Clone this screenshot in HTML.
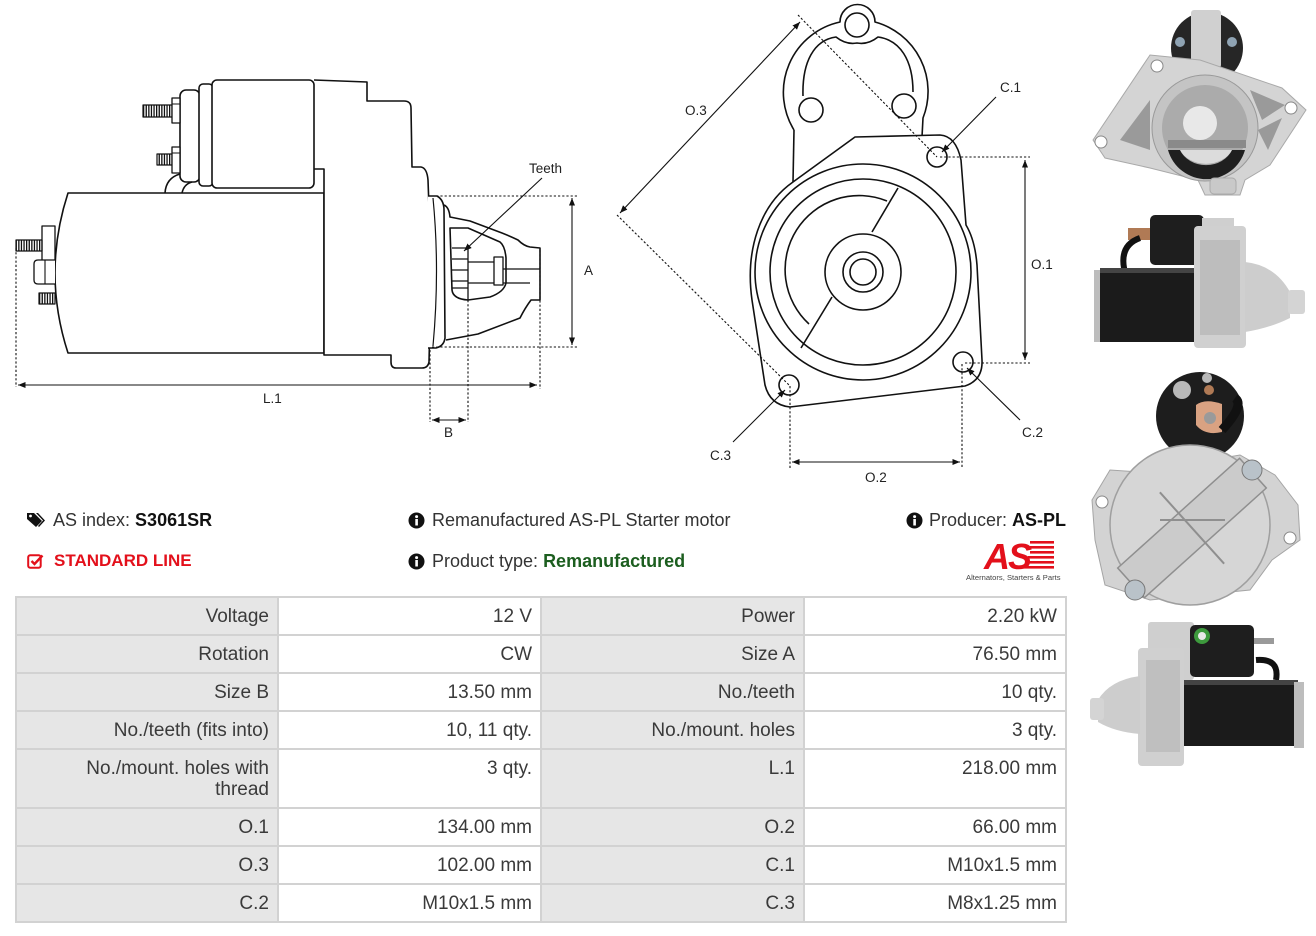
<!DOCTYPE html>
<html><head><meta charset="utf-8">
<style>
html,body{margin:0;padding:0;background:#fff;}
body{width:1316px;height:936px;position:relative;overflow:hidden;font-family:"Liberation Sans",Arial,sans-serif;color:#333;}
.abs{position:absolute;}
.info{position:absolute;font-size:18px;line-height:22px;white-space:nowrap;color:#333;}
.info b{color:#111;}
.tbl{position:absolute;left:15px;top:596px;width:1052px;height:327px;background:#d2d2d2;}
.c{position:absolute;box-sizing:border-box;padding:8px 8px 0 8px;text-align:right;font-size:19px;line-height:21px;color:#3a3a3a;}
.g{background:#e6e6e6;}
.w{background:#fff;}
</style></head><body>

<svg class="abs" style="left:0;top:0" width="1316" height="936" viewBox="0 0 1316 936">
<defs>
<marker id="ah" viewBox="0 0 10 10" refX="10" refY="5" markerWidth="7" markerHeight="7" orient="auto-start-reverse"><path d="M0,1 L10,5 L0,9 Z" fill="#111"/></marker>
<pattern id="hatch" width="2.6" height="20" patternUnits="userSpaceOnUse"><rect width="1.3" height="20" fill="#111"/></pattern>
</defs>

<!-- ============ LEFT SIDE DRAWING ============ -->
<g fill="none" stroke="#111" stroke-width="1.6" stroke-linejoin="round">
  <!-- motor body -->
  <path d="M68,193 L324,193 L324,353 L68,353 Q42,273 68,193 Z" fill="#fff"/>
  <!-- housing -->
  <path d="M314,80 L367,82 L367,101 L404,101 Q411,101 411,108 L412,167 L421,167 Q427,168 428,180 Q432,270 429,362 Q428,368 422,368 L396,368 Q391,368 391,362 L391,355 L324,355 L324,169 L314,169" fill="#fff"/>
  <!-- solenoid -->
  <rect x="180" y="90" width="20" height="92" rx="6" fill="#fff"/>
  <rect x="199" y="84" width="14" height="102" rx="4" fill="#fff"/>
  <rect x="212" y="80" width="102" height="108" rx="5" fill="#fff"/>
  <path d="M165,193 Q166,178 180,174"/>
  <path d="M182,193 Q184,184 192,182"/>
  <!-- solenoid studs -->
  <rect x="143" y="105" width="29" height="12" fill="url(#hatch)" stroke-width="1.2"/>
  <rect x="172" y="98" width="8" height="25" fill="#fff" stroke-width="1.3"/>
  <line x1="172" y1="104" x2="180" y2="104" stroke-width="1"/>
  <rect x="157" y="154" width="15" height="11" fill="url(#hatch)" stroke-width="1.2"/>
  <rect x="172" y="147" width="8" height="26" fill="#fff" stroke-width="1.3"/>
  <line x1="172" y1="153" x2="180" y2="153" stroke-width="1"/>
  <!-- left terminal -->
  <rect x="42" y="226" width="13" height="39" fill="#fff" stroke-width="1.3"/>
  <rect x="16" y="240" width="26" height="11" fill="url(#hatch)" stroke-width="1.2"/>
  <path d="M55,260 L38,260 Q34,260 34,264 L34,280 Q34,284 38,284 L55,284" fill="#fff" stroke-width="1.3"/>
  <line x1="45" y1="260" x2="45" y2="284" stroke-width="1.1"/>
  <rect x="39" y="293" width="16" height="11" fill="url(#hatch)" stroke-width="1.2"/>
  <!-- flange -->
  <path d="M428,196 L437,196 Q444,200 444,210 L445,338 Q444,346 436,348 L428,348" fill="#fff"/>
  <path d="M433,198 Q440,270 433,346" stroke-width="1.2"/>
  <!-- nose -->
  <path d="M444,205 Q449,207 450,217 L470,221 L502,233 Q512,237 518,240 Q524,246 530,247 L540,248 L540,300 L531,300 Q525,308 520,318 L478,334 L446,340"/>
  <path d="M450,228 L468,228 L500,242 Q505,246 506,258 L506,283 Q504,292 490,297 L468,300 Q453,299 452,290 Z"/>
  <line x1="468" y1="246" x2="468" y2="300" stroke-width="1.3"/>
  <path d="M452,248 L468,248 M452,259 L468,259 M452,270 L468,270 M452,281 L468,281 M452,288 L468,288" stroke-width="1.3"/>
  <path d="M468,262 L494,262 M468,283 L494,283 M503,269 L540,269 M503,283 L530,283" stroke-width="1.3"/>
  <rect x="494" y="257" width="9" height="28" fill="#fff" stroke-width="1.3"/>
</g>
<!-- left drawing dimensions -->
<g fill="none" stroke="#111" stroke-width="1.1" stroke-dasharray="2.2 2">
  <line x1="432" y1="196" x2="577" y2="196"/>
  <line x1="432" y1="347" x2="577" y2="347"/>
  <line x1="16" y1="248" x2="16" y2="387"/>
  <line x1="540" y1="250" x2="540" y2="389"/>
  <line x1="430" y1="350" x2="430" y2="422"/>
  <line x1="468" y1="300" x2="468" y2="422"/>
</g>
<g fill="none" stroke="#111" stroke-width="1.1">
  <line x1="18" y1="385" x2="537" y2="385" marker-start="url(#ah)" marker-end="url(#ah)"/>
  <line x1="572" y1="198" x2="572" y2="345" marker-start="url(#ah)" marker-end="url(#ah)"/>
  <line x1="432" y1="420" x2="466" y2="420" marker-start="url(#ah)" marker-end="url(#ah)"/>
  <line x1="542" y1="178" x2="464" y2="251" marker-end="url(#ah)"/>
</g>
<g font-family="Liberation Sans, sans-serif" font-size="13.5" fill="#222">
  <text x="529" y="173">Teeth</text>
  <text x="584" y="275">A</text>
  <text x="263" y="403">L.1</text>
  <text x="444" y="437">B</text>
</g>

<!-- ============ FRONT VIEW DRAWING ============ -->
<g fill="none" stroke="#111" stroke-width="1.6" stroke-linejoin="round">
  <path d="M794,130 A72,72 0 0 1 840,22 A17.5,17.5 0 0 1 875,22 A72,72 0 0 1 923,118 L922,137"/>
  <line x1="794" y1="130" x2="793" y2="182"/>
  <path d="M803,96 C802,62 814,40 836,37 Q846,45 857,43 Q868,45 878,37 C900,40 913,60 913,92"/>
  <circle cx="857" cy="25" r="12"/>
  <circle cx="811" cy="110" r="12"/>
  <circle cx="904" cy="106" r="12"/>
  <path d="M855,137 L793,182 C760,205 745,250 752,300 L765,385 Q770,405 790,407 L965,386 Q983,380 982,360 L977,265 Q975,240 966,225 L961,160 Q956,136 940,135 Z" fill="#fff"/>
  <circle cx="863" cy="272" r="108"/>
  <circle cx="863" cy="272" r="93"/>
  <path d="M887,201 A74,74 0 0 0 809,324"/>
  <line x1="898" y1="188" x2="872" y2="232"/>
  <line x1="832" y1="297" x2="801" y2="348"/>
  <circle cx="863" cy="272" r="38"/>
  <circle cx="863" cy="272" r="20"/>
  <circle cx="863" cy="272" r="13"/>
  <circle cx="937" cy="157" r="10"/>
  <circle cx="963" cy="362" r="10"/>
  <circle cx="789" cy="385" r="10"/>
</g>
<g fill="none" stroke="#111" stroke-width="1.1" stroke-dasharray="2.2 2">
  <line x1="940" y1="157" x2="1030" y2="157"/>
  <line x1="965" y1="363" x2="1030" y2="363"/>
  <line x1="790" y1="386" x2="790" y2="468"/>
  <line x1="962" y1="364" x2="962" y2="468"/>
  <line x1="798" y1="15" x2="937" y2="157"/>
  <line x1="617" y1="215" x2="789" y2="385"/>
</g>
<g fill="none" stroke="#111" stroke-width="1.1">
  <line x1="1025" y1="160" x2="1025" y2="360" marker-start="url(#ah)" marker-end="url(#ah)"/>
  <line x1="792" y1="462" x2="960" y2="462" marker-start="url(#ah)" marker-end="url(#ah)"/>
  <line x1="800" y1="22" x2="620" y2="213" marker-start="url(#ah)" marker-end="url(#ah)"/>
  <line x1="996" y1="97" x2="942" y2="152" marker-end="url(#ah)"/>
  <line x1="1020" y1="420" x2="967" y2="368" marker-end="url(#ah)"/>
  <line x1="733" y1="442" x2="785" y2="390" marker-end="url(#ah)"/>
</g>
<g font-family="Liberation Sans, sans-serif" font-size="13.5" fill="#222">
  <text x="685" y="115">O.3</text>
  <text x="1000" y="92">C.1</text>
  <text x="1031" y="269">O.1</text>
  <text x="1022" y="437">C.2</text>
  <text x="710" y="460">C.3</text>
  <text x="865" y="482">O.2</text>
</g>

<!-- ============ PHOTOS ============ -->
<!-- photo 1: front -->
<g>
  <circle cx="1207" cy="48" r="36" fill="#262626"/>
  <rect x="1191" y="10" width="30" height="58" rx="3" fill="#d0d0d0"/>
  <circle cx="1180" cy="42" r="5" fill="#8fa3b3"/>
  <circle cx="1232" cy="42" r="5" fill="#8fa3b3"/>
  <polygon points="1093,140 1150,55 1200,60 1282,88 1306,110 1270,165 1245,180 1240,195 1205,195 1198,180 1150,168 1105,158" fill="#d4d4d4" stroke="#a9a9a9"/>
  <circle cx="1101" cy="142" r="6" fill="#fff" stroke="#888"/>
  <circle cx="1157" cy="66" r="6" fill="#fff" stroke="#888"/>
  <circle cx="1291" cy="108" r="6" fill="#fff" stroke="#888"/>
  <polygon points="1120,140 1150,100 1150,150" fill="#9a9a9a"/>
  <polygon points="1250,90 1285,105 1262,120" fill="#9a9a9a"/>
  <polygon points="1258,130 1282,118 1268,150" fill="#9a9a9a"/>
  <circle cx="1205" cy="128" r="53" fill="#c4c4c4" stroke="#999"/>
  <circle cx="1205" cy="128" r="43" fill="#ababab"/>
  <path d="M1168,150 A40,40 0 0 0 1245,150 L1232,150 A28,24 0 0 1 1180,150 Z" fill="#1f1f1f"/>
  <path d="M1180,150 A28,22 0 0 0 1232,150 Z" fill="#dcdcdc"/>
  <rect x="1168" y="140" width="78" height="8" fill="#8a8a8a"/>
  <circle cx="1200" cy="123" r="17" fill="#e8e8e8"/>
  <rect x="1210" y="178" width="26" height="16" rx="4" fill="#c9c9c9" stroke="#aaa"/>
</g>
<!-- photo 2: side -->
<g>
  <rect x="1150" y="215" width="54" height="50" rx="5" fill="#1e1e1e"/>
  <rect x="1202" y="218" width="32" height="46" fill="#cfcfcf"/>
  <rect x="1128" y="228" width="22" height="12" fill="#b07a55"/>
  <path d="M1140,238 Q1120,245 1124,268 L1126,278" stroke="#111" stroke-width="6" fill="none"/>
  <rect x="1094" y="270" width="8" height="72" fill="#bdbdbd"/>
  <rect x="1100" y="268" width="96" height="74" fill="#1b1b1b"/>
  <rect x="1100" y="268" width="96" height="5" fill="#444"/>
  <rect x="1194" y="226" width="52" height="122" rx="4" fill="#d0d0d0"/>
  <rect x="1200" y="240" width="40" height="95" fill="#bdbdbd"/>
  <path d="M1245,262 Q1275,265 1290,292 L1290,318 Q1270,328 1245,332 Z" fill="#cdcdcd"/>
  <rect x="1288" y="290" width="17" height="24" rx="3" fill="#d4d4d4"/>
</g>
<!-- photo 3: rear -->
<g>
  <circle cx="1200" cy="416" r="44" fill="#1d1d1d"/>
  <circle cx="1182" cy="390" r="9" fill="#b8b8b8"/>
  <circle cx="1207" cy="378" r="5" fill="#b8b8b8"/>
  <circle cx="1209" cy="390" r="5" fill="#b07a55"/>
  <path d="M1196,405 Q1205,398 1222,404 L1222,432 Q1205,436 1196,425 Z" fill="#d9a282"/>
  <circle cx="1210" cy="418" r="6" fill="#9a9a9a"/>
  <path d="M1222,430 Q1245,405 1235,398" stroke="#111" stroke-width="9" fill="none"/>
  <polygon points="1092,500 1110,470 1140,472 1240,455 1275,475 1298,505 1300,540 1272,560 1250,590 1150,600 1105,585 1095,540" fill="#d3d3d3" stroke="#a5a5a5"/>
  <circle cx="1102" cy="502" r="6" fill="#fff" stroke="#888"/>
  <circle cx="1290" cy="538" r="6" fill="#fff" stroke="#888"/>
  <circle cx="1190" cy="525" r="80" fill="#d6d6d6" stroke="#9f9f9f" stroke-width="1.5"/>
  <g transform="rotate(-42 1192 528)">
    <rect x="1110" y="508" width="164" height="40" fill="#cbcbcb" stroke="#8f8f8f" stroke-width="1.5"/>
    <line x1="1192" y1="480" x2="1192" y2="576" stroke="#8f8f8f" stroke-width="2"/>
  </g>
  <path d="M1160,520 L1225,520" stroke="#8f8f8f" stroke-width="2"/>
  <circle cx="1252" cy="470" r="10" fill="#b9c2c9" stroke="#777"/>
  <circle cx="1135" cy="590" r="10" fill="#b9c2c9" stroke="#777"/>
</g>
<!-- photo 4: side mirrored -->
<g>
  <rect x="1148" y="622" width="46" height="58" rx="3" fill="#cfcfcf"/>
  <rect x="1190" y="625" width="64" height="52" rx="5" fill="#1e1e1e"/>
  <circle cx="1202" cy="636" r="8" fill="#3d9a3d"/>
  <circle cx="1202" cy="636" r="4" fill="#e8e8e8"/>
  <rect x="1254" y="638" width="20" height="6" fill="#9a9a9a"/>
  <path d="M1256,660 Q1280,658 1276,680" stroke="#111" stroke-width="6" fill="none"/>
  <rect x="1178" y="680" width="120" height="66" fill="#1b1b1b"/>
  <rect x="1178" y="680" width="120" height="5" fill="#444"/>
  <rect x="1294" y="682" width="10" height="66" fill="#bdbdbd"/>
  <rect x="1138" y="648" width="46" height="118" rx="4" fill="#d0d0d0"/>
  <rect x="1146" y="660" width="34" height="92" fill="#bfbfbf"/>
  <path d="M1140,676 Q1110,680 1098,700 L1098,722 Q1115,732 1140,734 Z" fill="#cdcdcd"/>
  <rect x="1090" y="698" width="14" height="22" rx="3" fill="#d4d4d4"/>
</g>
</svg>

<!-- ============ INFO ROWS ============ -->
<svg class="abs" style="left:26px;top:511px" width="20" height="18" viewBox="0 0 20 18">
  <path d="M1,2 L8,2 L16,10 L10,16 L1,8 Z" fill="#111"/>
  <circle cx="4.5" cy="5" r="1.4" fill="#fff"/>
  <path d="M10,2 L12,2 L19,9.5 L13,16 L12,15 L17,9.5 Z" fill="#111"/>
</svg>
<div class="info" style="left:53px;top:509px;">AS index: <b>S3061SR</b></div>

<svg class="abs" style="left:27px;top:553px" width="17" height="17" viewBox="0 0 17 17">
  <rect x="1.2" y="2.2" width="12.5" height="12.5" rx="2" fill="none" stroke="#e3101b" stroke-width="2"/>
  <path d="M4.5,8 L7.5,11 L15.5,2.5" fill="none" stroke="#e3101b" stroke-width="2.4"/>
</svg>
<div class="info" style="left:54px;top:550px;font-size:17px;font-weight:bold;color:#e3101b;">STANDARD LINE</div>

<svg class="abs" style="left:408px;top:512px" width="17" height="17" viewBox="0 0 17 17">
  <circle cx="8.5" cy="8.5" r="8" fill="#111"/>
  <rect x="7.3" y="7" width="2.6" height="6.5" fill="#fff"/><circle cx="8.6" cy="4.6" r="1.5" fill="#fff"/>
</svg>
<div class="info" style="left:432px;top:509px;">Remanufactured AS-PL Starter motor</div>

<svg class="abs" style="left:408px;top:553px" width="17" height="17" viewBox="0 0 17 17">
  <circle cx="8.5" cy="8.5" r="8" fill="#111"/>
  <rect x="7.3" y="7" width="2.6" height="6.5" fill="#fff"/><circle cx="8.6" cy="4.6" r="1.5" fill="#fff"/>
</svg>
<div class="info" style="left:432px;top:550px;">Product type: <b style="color:#1c5e1f;">Remanufactured</b></div>

<svg class="abs" style="left:906px;top:512px" width="17" height="17" viewBox="0 0 17 17">
  <circle cx="8.5" cy="8.5" r="8" fill="#111"/>
  <rect x="7.3" y="7" width="2.6" height="6.5" fill="#fff"/><circle cx="8.6" cy="4.6" r="1.5" fill="#fff"/>
</svg>
<div class="info" style="right:250px;top:509px;">Producer: <b>AS-PL</b></div>

<!-- logo -->
<svg class="abs" style="left:960px;top:536px" width="110" height="48" viewBox="0 0 110 48">
  <g fill="#e3101b">
    <rect x="70" y="5" width="24" height="2.6"/>
    <rect x="70" y="10" width="24" height="2.6"/>
    <rect x="70" y="15" width="24" height="2.6"/>
    <rect x="68" y="20" width="26" height="2.6"/>
    <rect x="66" y="25" width="28" height="2.6"/>
    <rect x="64" y="30" width="30" height="2.6"/>
    <text x="24" y="33" font-family="Liberation Sans, sans-serif" font-size="36" font-weight="bold" font-style="italic" letter-spacing="-2">AS</text>
  </g>
  <text x="6" y="44" font-family="Liberation Sans, sans-serif" font-size="7.6" fill="#444">Alternators, Starters &amp; Parts</text>
</svg>

<!-- ============ TABLE ============ -->
<div class="tbl">
  <!-- row 1 -->
  <div class="c g" style="left:2px;top:2px;width:260px;height:36px;">Voltage</div>
  <div class="c w" style="left:264px;top:2px;width:261px;height:36px;">12 V</div>
  <div class="c g" style="left:527px;top:2px;width:261px;height:36px;">Power</div>
  <div class="c w" style="left:790px;top:2px;width:260px;height:36px;">2.20 kW</div>
  <!-- row 2 -->
  <div class="c g" style="left:2px;top:40px;width:260px;height:36px;">Rotation</div>
  <div class="c w" style="left:264px;top:40px;width:261px;height:36px;">CW</div>
  <div class="c g" style="left:527px;top:40px;width:261px;height:36px;">Size A</div>
  <div class="c w" style="left:790px;top:40px;width:260px;height:36px;">76.50 mm</div>
  <!-- row 3 -->
  <div class="c g" style="left:2px;top:78px;width:260px;height:36px;">Size B</div>
  <div class="c w" style="left:264px;top:78px;width:261px;height:36px;">13.50 mm</div>
  <div class="c g" style="left:527px;top:78px;width:261px;height:36px;">No./teeth</div>
  <div class="c w" style="left:790px;top:78px;width:260px;height:36px;">10 qty.</div>
  <!-- row 4 -->
  <div class="c g" style="left:2px;top:116px;width:260px;height:36px;">No./teeth (fits into)</div>
  <div class="c w" style="left:264px;top:116px;width:261px;height:36px;">10, 11 qty.</div>
  <div class="c g" style="left:527px;top:116px;width:261px;height:36px;">No./mount. holes</div>
  <div class="c w" style="left:790px;top:116px;width:260px;height:36px;">3 qty.</div>
  <!-- row 5 -->
  <div class="c g" style="left:2px;top:154px;width:260px;height:57px;padding-left:40px;">No./mount. holes with thread</div>
  <div class="c w" style="left:264px;top:154px;width:261px;height:57px;">3 qty.</div>
  <div class="c g" style="left:527px;top:154px;width:261px;height:57px;">L.1</div>
  <div class="c w" style="left:790px;top:154px;width:260px;height:57px;">218.00 mm</div>
  <!-- row 6 -->
  <div class="c g" style="left:2px;top:213px;width:260px;height:36px;">O.1</div>
  <div class="c w" style="left:264px;top:213px;width:261px;height:36px;">134.00 mm</div>
  <div class="c g" style="left:527px;top:213px;width:261px;height:36px;">O.2</div>
  <div class="c w" style="left:790px;top:213px;width:260px;height:36px;">66.00 mm</div>
  <!-- row 7 -->
  <div class="c g" style="left:2px;top:251px;width:260px;height:36px;">O.3</div>
  <div class="c w" style="left:264px;top:251px;width:261px;height:36px;">102.00 mm</div>
  <div class="c g" style="left:527px;top:251px;width:261px;height:36px;">C.1</div>
  <div class="c w" style="left:790px;top:251px;width:260px;height:36px;">M10x1.5 mm</div>
  <!-- row 8 -->
  <div class="c g" style="left:2px;top:289px;width:260px;height:36px;">C.2</div>
  <div class="c w" style="left:264px;top:289px;width:261px;height:36px;">M10x1.5 mm</div>
  <div class="c g" style="left:527px;top:289px;width:261px;height:36px;">C.3</div>
  <div class="c w" style="left:790px;top:289px;width:260px;height:36px;">M8x1.25 mm</div>
</div>

</body></html>
